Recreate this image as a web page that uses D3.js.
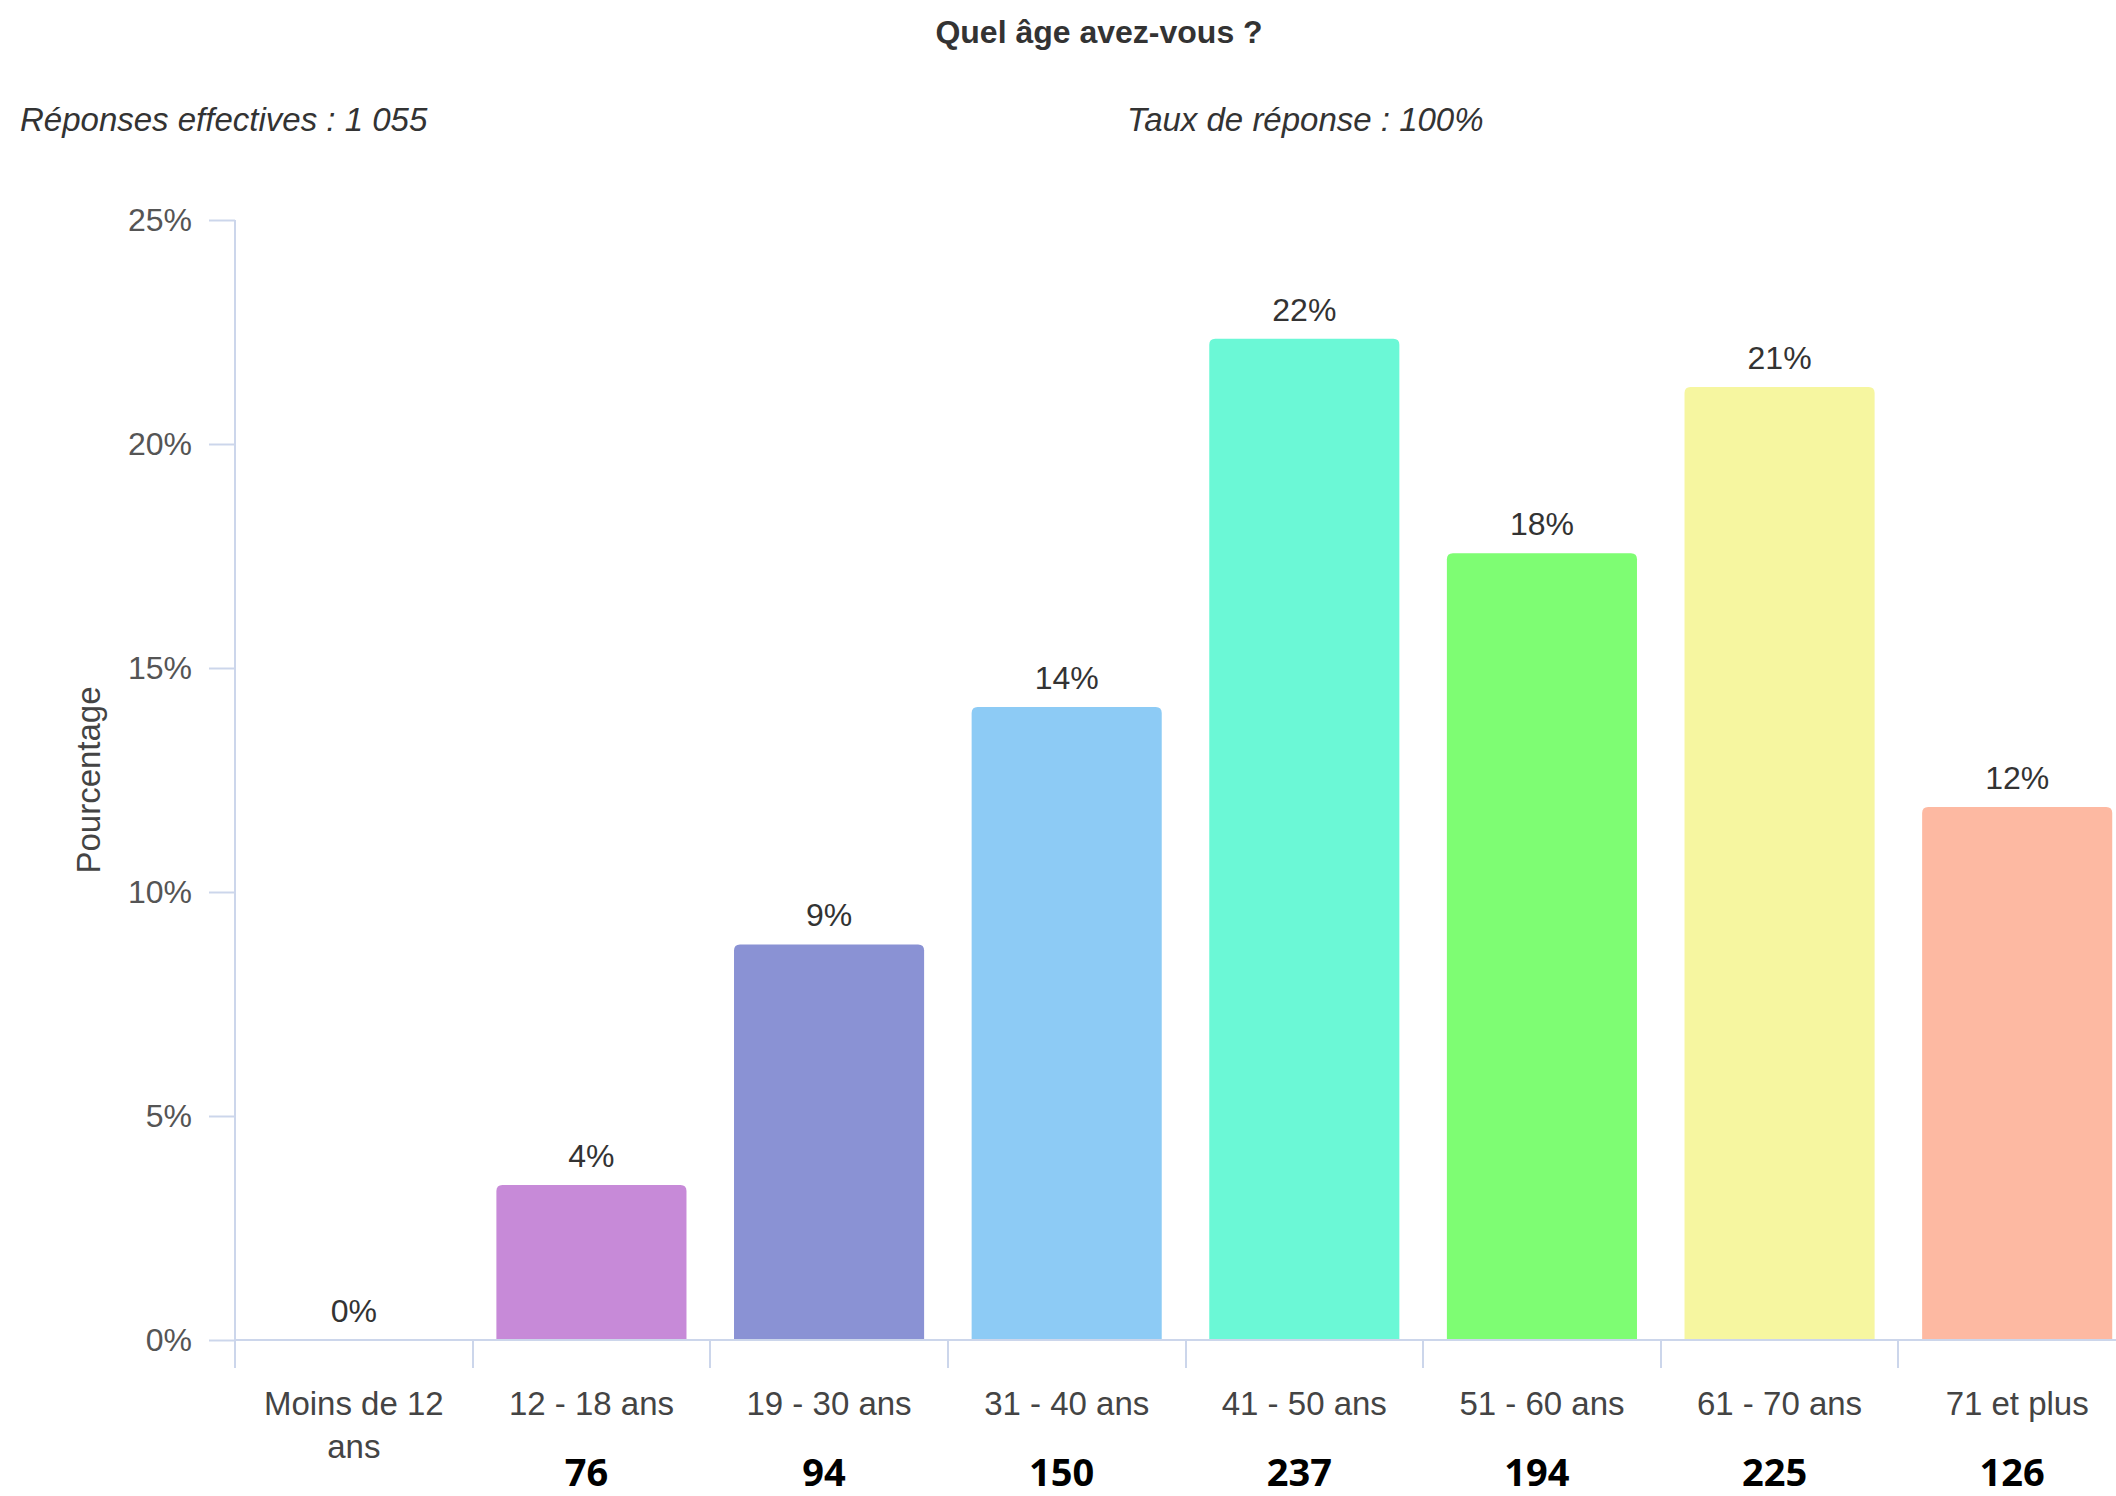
<!DOCTYPE html>
<meta charset="utf-8">
<head>
    <style>
        body {
            margin: 0;
            background: #ffffff;
            font-family: "Liberation Sans", Arial, sans-serif;
        }

        .axis-line {
            stroke: #ccd6eb;
            stroke-width: 2;
            shape-rendering: crispEdges;
        }
    </style>
</head>

<body>
    <script src="https://cdn.jsdelivr.net/npm/d3@7"></script>
    <div id="chart"></div>

    <script>
        // data
        var categories = ["Moins de 12 ans", "12 - 18 ans", "19 - 30 ans", "31 - 40 ans",
            "41 - 50 ans", "51 - 60 ans", "61 - 70 ans", "71 et plus"];
        var percents = [0, 3.46, 8.83, 14.13, 22.35, 17.56, 21.27, 11.9];
        var percentLabels = ["0%", "4%", "9%", "14%", "22%", "18%", "21%", "12%"];
        var counts = [null, 76, 94, 150, 237, 194, 225, 126];
        var colors = ["#c78ad8", "#c78ad8", "#8a92d4", "#8dcbf5", "#6bf8d6", "#7efd73", "#f6f6a0", "#fdb9a2"];
        var yTicks = [0, 5, 10, 15, 20, 25];

        // sizes (named so they don't clash with window.top)
        var W = 2116, H = 1496;
        var plotLeft = 235, plotRight = 2136, plotTop = 220, plotBottom = 1340;

        var svg = d3.select("#chart").append("svg")
            .attr("width", W)
            .attr("height", H);

        // scales
        var x = d3.scaleBand()
            .domain(categories)
            .range([plotLeft, plotRight])
            .paddingInner(0.2)
            .paddingOuter(0.1);

        var y = d3.scaleLinear()
            .domain([0, 25])
            .range([plotBottom, plotTop]);

        // titles
        svg.append("text")
            .attr("x", 1099)
            .attr("y", 43)
            .attr("text-anchor", "middle")
            .style("font-size", "32px")
            .style("font-weight", "bold")
            .style("fill", "#333")
            .text("Quel âge avez-vous ?");

        svg.append("text")
            .attr("x", 20)
            .attr("y", 131)
            .style("font-size", "33px")
            .style("font-style", "italic")
            .style("fill", "#333")
            .text("Réponses effectives : 1 055");

        svg.append("text")
            .attr("x", 1127)
            .attr("y", 131)
            .style("font-size", "33px")
            .style("font-style", "italic")
            .style("fill", "#333")
            .text("Taux de réponse : 100%");

        // y axis
        var yAxis = svg.append("g")
            .attr("transform", "translate(" + plotLeft + ",0)")
            .call(d3.axisLeft(y)
                .tickValues(yTicks)
                .tickSize(26)
                .tickPadding(17)
                .tickFormat(function (d) { return d + "%"; }));
        yAxis.select(".domain").remove();
        yAxis.selectAll(".tick line").attr("stroke", "#ccd6eb").attr("stroke-width", 2);
        yAxis.selectAll(".tick text")
            .style("font-family", "Liberation Sans, Arial, sans-serif")
            .style("font-size", "32px")
            .style("fill", "#555");

        svg.append("line")
            .attr("class", "axis-line")
            .attr("x1", plotLeft).attr("x2", plotLeft)
            .attr("y1", plotTop).attr("y2", plotBottom);

        svg.append("text")
            .attr("transform", "translate(100,780) rotate(-90)")
            .attr("text-anchor", "middle")
            .style("font-size", "33px")
            .style("fill", "#444")
            .text("Pourcentage");

        // bars, only top corners rounded
        function barPath(d, i) {
            var x0 = x(categories[i]), w = x.bandwidth();
            var y0 = y(d), y1 = y(0);
            if (y1 - y0 <= 0) return "";
            var r = Math.min(6, (y1 - y0) / 2);
            return "M" + x0 + "," + y1 +
                "V" + (y0 + r) +
                "Q" + x0 + "," + y0 + " " + (x0 + r) + "," + y0 +
                "H" + (x0 + w - r) +
                "Q" + (x0 + w) + "," + y0 + " " + (x0 + w) + "," + (y0 + r) +
                "V" + y1 + "Z";
        }

        svg.append("g")
            .selectAll("path")
            .data(percents)
            .enter()
            .append("path")
            .attr("d", barPath)
            .style("fill", function (d, i) { return colors[i]; });

        // value labels
        svg.append("g")
            .selectAll("text")
            .data(percents)
            .enter()
            .append("text")
            .attr("x", function (d, i) { return x(categories[i]) + x.bandwidth() / 2; })
            .attr("y", function (d) { return y(d) - 18; })
            .attr("text-anchor", "middle")
            .style("font-size", "32px")
            .style("fill", "#333")
            .text(function (d, i) { return percentLabels[i]; });

        // x axis line and tick marks between categories
        svg.append("line")
            .attr("class", "axis-line")
            .attr("x1", plotLeft).attr("x2", W)
            .attr("y1", plotBottom).attr("y2", plotBottom);

        var bounds = categories.map(function (c) { return x(c) - x.step() * 0.1; });
        svg.append("g")
            .selectAll("line")
            .data(bounds)
            .enter()
            .append("line")
            .attr("class", "axis-line")
            .attr("x1", function (d) { return d; })
            .attr("x2", function (d) { return d; })
            .attr("y1", plotBottom)
            .attr("y2", plotBottom + 28);

        // category labels, wrapped when wider than the slot
        svg.append("g")
            .selectAll("text")
            .data(categories)
            .enter()
            .append("text")
            .attr("text-anchor", "middle")
            .style("font-size", "33px")
            .style("fill", "#444")
            .each(function (c) {
                var t = d3.select(this);
                var cx = x(c) + x.bandwidth() / 2;
                var words = c.split(" "), line = [], lineNo = 0;
                var tspan = t.append("tspan").attr("x", cx).attr("y", 1415);
                words.forEach(function (w) {
                    line.push(w);
                    tspan.text(line.join(" "));
                    if (tspan.node().getComputedTextLength() > x.step() - 20 && line.length > 1) {
                        line.pop();
                        tspan.text(line.join(" "));
                        line = [w];
                        lineNo++;
                        tspan = t.append("tspan").attr("x", cx).attr("y", 1415 + lineNo * 43).text(w);
                    }
                });
            });

        // counts written under the categories
        svg.append("g")
            .selectAll("text")
            .data(counts)
            .enter()
            .append("text")
            .attr("x", function (d, i) { return x(categories[i]) + x.bandwidth() / 2 - 5; })
            .attr("y", 1486)
            .attr("text-anchor", "middle")
            .style("font-family", "Noto Sans, Open Sans, sans-serif")
            .style("font-size", "38px")
            .style("font-weight", "bold")
            .style("fill", "#000")
            .text(function (d) { return d === null ? "" : d; });
    </script>
</body>
